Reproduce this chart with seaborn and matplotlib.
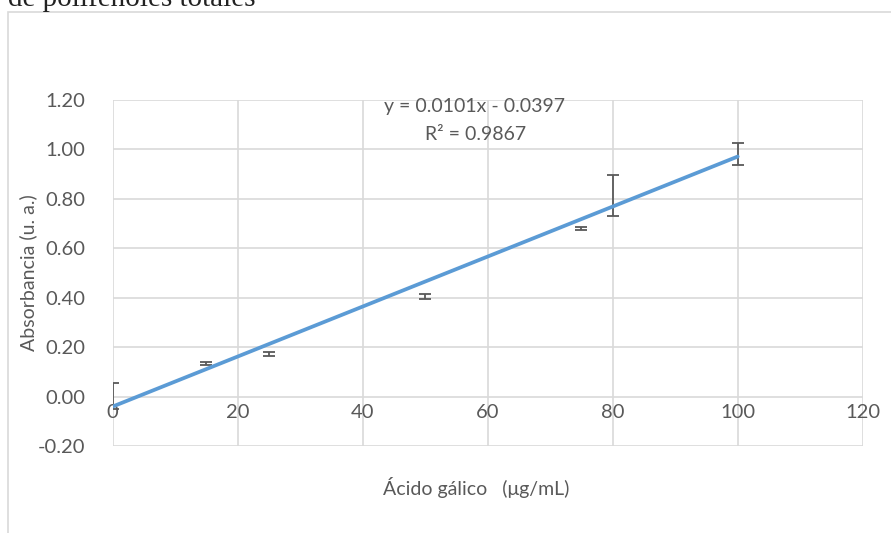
import matplotlib
matplotlib.use("Agg")
import matplotlib.pyplot as plt
from matplotlib.patches import Rectangle
import seaborn as sns
import numpy as np
import pandas as pd

# --- DATA ---
conc = [0, 15, 25, 50, 75, 80, 100]                 # Acido galico (ug/mL)
absorb = [0.003, 0.134, 0.173, 0.405, 0.678, 0.813, 0.981]
err = [0.054, 0.007, 0.008, 0.010, 0.006, 0.083, 0.043]
slope = 0.0101
intercept = -0.0397
r2 = 0.9867
x_ticks = [0, 20, 40, 60, 80, 100, 120]
y_ticks = [-0.20, 0.00, 0.20, 0.40, 0.60, 0.80, 1.00, 1.20]

df = pd.DataFrame({"conc": conc, "abs": absorb, "err": err})
trend = pd.DataFrame({"x": [min(conc), max(conc)]})
trend["y"] = slope * trend["x"] + intercept

# --- STYLE ---
sns.set_theme(style="white")
plt.rcParams["font.family"] = ["Lato", "DejaVu Sans"]
TXT = "#595959"
GRID = "#d9d9d9"

fig = plt.figure(figsize=(8.91, 5.33), dpi=100)
ax = fig.add_axes([112.7 / 891, 1 - 446.2 / 533, (862.7 - 112.7) / 891, (446.2 - 99.7) / 533])

# chart border (Excel chart area) and the caption above it, cut off as in the source
fig.add_artist(Rectangle((8 / 891, -0.2), 1.2, 1.2 - 12 / 533, transform=fig.transFigure,
                         fill=False, edgecolor=GRID, linewidth=1.2))
fig.text(8 / 891, 1 - 6 / 533, "de polifenoles totales", family="Liberation Serif",
         fontsize=21, color="#222222", va="baseline", ha="left")

# error bars (no markers) and linear trendline
ax.errorbar(df["conc"], df["abs"], yerr=df["err"], fmt="none", ecolor="#595959",
            elinewidth=1.3, capsize=4.2, capthick=1.3, zorder=3)
sns.lineplot(data=trend, x="x", y="y", ax=ax, color="#5b9bd5", linewidth=2.7, zorder=4)

ax.set_xlim(0, 120)
ax.set_ylim(-0.2, 1.2)
ax.set_xticks(x_ticks)
ax.set_yticks(y_ticks)
ax.set_yticklabels([f"{v:.2f}" for v in y_ticks])
ax.grid(True, color=GRID, linewidth=1.2)
ax.set_axisbelow(True)
for s in ax.spines.values():
    s.set_visible(False)
ax.spines["bottom"].set_position(("data", 0))
ax.tick_params(axis="both", length=0, labelsize=14.5, labelcolor=TXT)
ax.tick_params(axis="x", pad=5)
ax.tick_params(axis="y", pad=20)

ax.set_xlabel("")
ax.set_ylabel("")
fig.text(476 / 891, 1 - 488 / 533, "Ácido gálico   (μg/mL)", ha="center", va="center",
         fontsize=14, color=TXT)
fig.text(28 / 891, 1 - 273 / 533, "Absorbancia (u. a.)", ha="center", va="center",
         rotation=90, fontsize=14, color=TXT)

# trendline equation
ax.text(475 / 891, 1 - 106 / 533, f"y = {slope:.4f}x - {abs(intercept):.4f}",
        transform=fig.transFigure, ha="center", va="center", fontsize=14, color=TXT)
ax.text(476 / 891, 1 - 134 / 533, f"R² = {r2:.4f}",
        transform=fig.transFigure, ha="center", va="center", fontsize=14, color=TXT)

fig.savefig("out.png", dpi=100)
